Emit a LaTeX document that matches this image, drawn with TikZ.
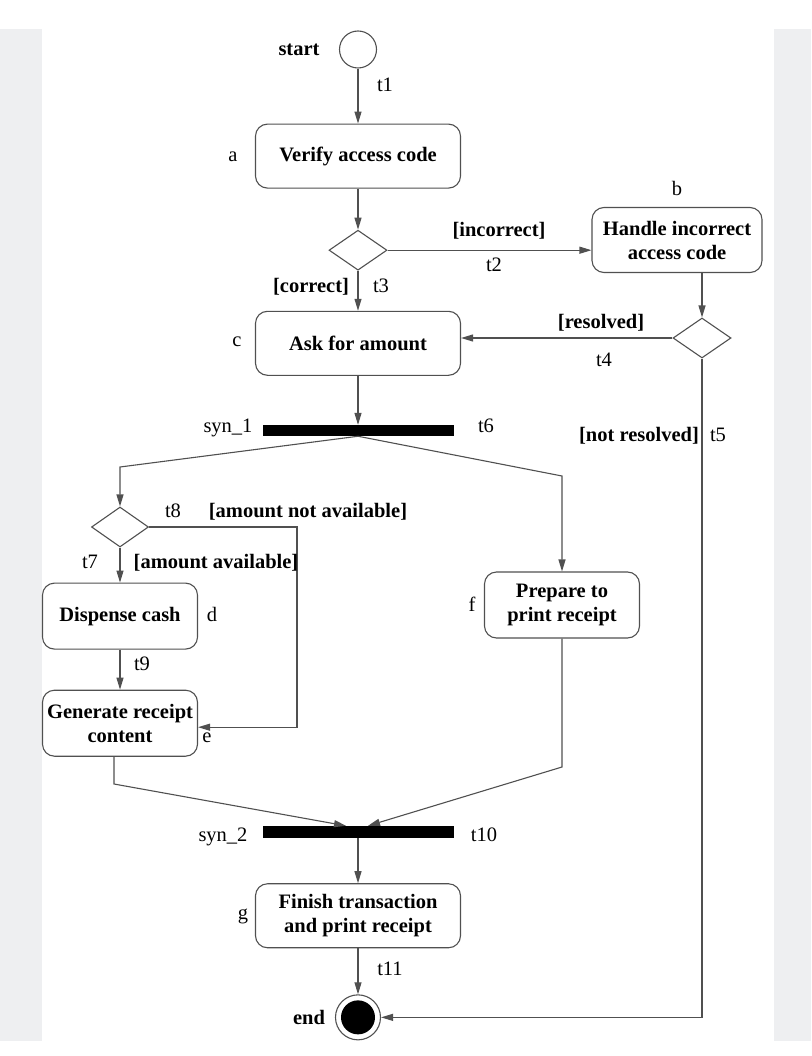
\documentclass[tikz,border=0pt]{standalone}
\usepackage{fontspec}
\setmainfont{Liberation Serif}
\usetikzlibrary{arrows.meta, shapes.geometric, positioning}
\definecolor{bandgray}{RGB}{238,239,241}
\definecolor{linegray}{RGB}{80,80,80}

\begin{document}
\begin{tikzpicture}[
        x=1pt, y=-1pt,
        font=\fontsize{20.5}{24}\selectfont,
        act/.style={rectangle, rounded corners=12pt, draw=linegray, line width=1.1pt, minimum width=205pt, minimum height=64pt, inner sep=2pt, align=center, font=\fontsize{20.5}{24}\selectfont\bfseries},
        dec/.style={diamond, draw=linegray, line width=1.1pt, minimum width=58pt, minimum height=40pt, inner sep=0pt},
        bar/.style={rectangle, fill=black, minimum width=191pt, minimum height=11pt, inner sep=0pt},
        arrow/.style={-{Triangle[length=12pt, width=7pt]}, line width=1.1pt, draw=linegray},
        lbl/.style={inner sep=0pt, text height=14pt, text depth=4pt},
        grd/.style={lbl, font=\fontsize{20.5}{24}\selectfont\bfseries}
    ]

    \useasboundingbox (0,0) rectangle (811,1056);
    \fill [bandgray] (0,29) rectangle (42,1041);
    \fill [bandgray] (774,29) rectangle (811,1041);

    % Activities
    \node (start) [circle, draw=linegray, line width=1.1pt, minimum size=37pt, inner sep=0pt] at (358,49.5) {};
    \node (a) [act, below=55pt of start] {Verify access code};
    \node (d1) [dec, below=41pt of a] {};
    \node (c) [act, below=40pt of d1] {Ask for amount};
    \node (syn1) [bar, below=49pt of c] {};
    \node (b) [act, minimum width=170pt, minimum height=65pt] at (677,240) {Handle incorrect\\access code};
    \node (d2) [dec] at (702,338) {};
    \node (d3) [dec, minimum width=57pt] at (120,527) {};
    \node (d) [act, minimum width=155pt, minimum height=66pt, below=35pt of d3] {Dispense cash};
    \node (e) [act, minimum width=155pt, minimum height=66pt, below=40pt of d] {Generate receipt\\content};
    \node (f) [act, minimum width=155pt, minimum height=66pt] at (562,605) {Prepare to\\print receipt};
    \node (syn2) [bar, minimum height=12pt] at (358,832) {};
    \node (g) [act, below=45pt of syn2] {Finish transaction\\and print receipt};
    \node (end) [circle, draw=linegray, line width=1.1pt, minimum size=45pt, inner sep=0pt, below=46pt of g] {};
    \node (endin) [circle, fill=black, minimum size=34pt, inner sep=0pt] at (end) {};

    % Bends
    \coordinate (kl) at (120,467);
    \coordinate (kr) at (562,476);
    \coordinate (kn) at (297,620);
    \coordinate (ke) at (114,784);
    \coordinate (kf) at (562,767);

    % Transitions
    \draw [arrow] (start) -- (a);
    \draw [arrow] (a) -- (d1);
    \draw [arrow] (d1.east) -- (d1.east -| b.west);
    \draw [arrow] (d1) -- (c);
    \draw [arrow] (b.south -| d2.north) -- (d2.north);
    \draw [arrow] (d2.west) -- (d2.west -| c.east);
    \draw [arrow] (d2.south) |- (end.east);
    \draw [arrow] (c) -- (syn1);
    \draw [arrow] (syn1.south) -- (kl) -- (d3.north);
    \draw [arrow] (syn1.south) -- (kr) -- (f.north);
    \draw [arrow] (d3) -- (d);
    \draw [arrow] (d3.east) -| (kn) |- ([yshift=-4pt]e.east);
    \draw [arrow] (d) -- (e);
    \draw [arrow] (e.south -| ke) -- (ke) -- ([xshift=-12pt]syn2.north);
    \draw [arrow] (f.south) -- (kf) -- ([xshift=10pt]syn2.north);
    \draw [arrow] (syn2) -- (g);
    \draw [arrow] (g) -- (end);

    % Labels
    \node (lstart) [grd] at (299,51) {start};
    \node (lend) [grd] at (309,1019) {end};
    \node (la) [lbl] at (233,157) {a};
    \node (lb) [lbl] at (677,191) {b};
    \node (lc) [lbl] at (237,341) {c};
    \node (ld) [lbl] at (212,616) {d};
    \node (le) [lbl] at (207,737) {e};
    \node (lf) [lbl] at (472,606) {f};
    \node (lg) [lbl] at (243,914) {g};
    \node (lsyn1) [lbl] at (228,427) {syn\_1};
    \node (lsyn2) [lbl] at (223,836) {syn\_2};
    \node (t1) [lbl] at (385,87) {t1};
    \node (t2) [lbl] at (494,267) {t2};
    \node (t3) [lbl] at (381,287) {t3};
    \node (t4) [lbl] at (604,361) {t4};
    \node (t5) [lbl] at (718,436) {t5};
    \node (t6) [lbl] at (486,427) {t6};
    \node (t7) [lbl] at (90,563) {t7};
    \node (t8) [lbl] at (173,512) {t8};
    \node (t9) [lbl] at (142,665) {t9};
    \node (t10) [lbl] at (484,836) {t10};
    \node (t11) [lbl] at (390,970) {t11};
    \node (gincor) [grd] at (499,232) {[incorrect]};
    \node (gcor) [grd] at (311,287) {[correct]};
    \node (gres) [grd] at (601,323) {[resolved]};
    \node (gnres) [grd] at (639,436) {[not resolved]};
    \node (gnav) [grd] at (308,512) {[amount not available]};
    \node (gav) [grd] at (216,563) {[amount available]};

\end{tikzpicture}
\end{document}
